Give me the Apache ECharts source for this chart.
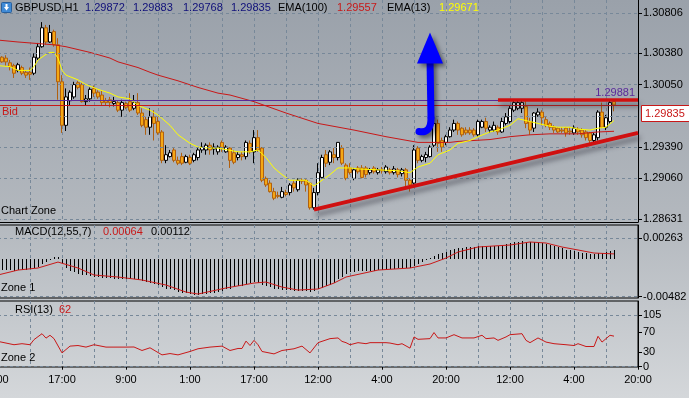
<!DOCTYPE html>
<html lang="en">
<head>
<meta charset="UTF-8">
<title>GBPUSD,H1</title>
<script src="https://cdn.jsdelivr.net/npm/echarts@6/dist/echarts.min.js"></script>
<style>
    html, body { margin: 0; padding: 0; }
    #main { width: 689px; height: 398px; background: linear-gradient(to bottom, #9aa1aa 0%, #b3b8be 55%, #d4d7da 100%); }
</style>
</head>
<body>
<div id="main"></div>
<script type="text/javascript">
    // time axis labels, one every 16 hourly bars
    var timeLabels = ['1:00', '17:00', '9:00', '1:00', '17:00', '12:00', '4:00', '20:00', '12:00', '4:00', '20:00'];

    // OHLC of bars 1..154
    var opens = [
        1.3034,1.3033,1.3028,1.3025,1.3020,1.3023,1.3018,1.3018,1.3017,1.3033,
        1.3045,1.3065,1.3050,1.3061,1.3047,1.3008,1.2962,1.2988,1.2992,1.3007,
        1.3005,1.2987,1.2990,1.3001,1.2997,1.2994,1.2988,1.2989,1.2985,1.2986,
        1.2978,1.2985,1.2987,1.2980,1.2986,1.2975,1.2968,1.2960,1.2971,1.2966,
        1.2955,1.2925,1.2929,1.2936,1.2925,1.2929,1.2923,1.2928,1.2925,1.2928,
        1.2936,1.2936,1.2941,1.2937,1.2934,1.2944,1.2934,1.2938,1.2933,1.2928,
        1.2931,1.2929,1.2943,1.2934,1.2949,1.2938,1.2906,1.2901,1.2892,1.2888,
        1.2886,1.2891,1.2891,1.2901,1.2894,1.2904,1.2904,1.2901,1.2875,1.2891,
        1.2907,1.2931,1.2923,1.2931,1.2928,1.2938,1.2920,1.2917,1.2906,1.2917,
        1.2917,1.2917,1.2912,1.2917,1.2912,1.2915,1.2913,1.2915,1.2912,1.2915,
        1.2911,1.2915,1.2904,1.2901,1.2938,1.2925,1.2928,1.2929,1.2941,1.2964,
        1.2946,1.2944,1.2950,1.2957,1.2964,1.2959,1.2957,1.2957,1.2957,1.2952,
        1.2960,1.2966,1.2957,1.2957,1.2960,1.2955,1.2964,1.2966,1.2978,1.2980,
        1.2980,1.2982,1.2966,1.2959,1.2973,1.2976,1.2968,1.2964,1.2960,1.2959,
        1.2957,1.2959,1.2956,1.2954,1.2958,1.2957,1.2955,1.2954,1.2946,1.2949,
        1.2976,1.2960,1.2966,1.29872
    ];
    var closes = [
        1.3029,1.3029,1.3024,1.3017,1.3026,1.3017,1.3015,1.3016,1.3034,1.3045,
        1.3065,1.3050,1.3060,1.3047,1.3008,1.2962,1.2992,1.2997,1.3005,1.3002,
        1.2987,1.2990,1.3000,1.2996,1.2992,1.2986,1.2986,1.2986,1.2987,1.2978,
        1.2986,1.2981,1.2978,1.2986,1.2975,1.2962,1.2960,1.2971,1.2964,1.2954,
        1.2925,1.2931,1.2933,1.2925,1.2922,1.2922,1.2929,1.2922,1.2931,1.2936,
        1.2939,1.2941,1.2936,1.2939,1.2939,1.2938,1.2939,1.2925,1.2923,1.2931,
        1.2929,1.2944,1.2934,1.2949,1.2936,1.2904,1.2899,1.2892,1.2885,1.2887,
        1.2892,1.2889,1.2899,1.2896,1.2904,1.2903,1.2899,1.2875,1.2891,1.2912,
        1.2928,1.2922,1.2934,1.2928,1.2944,1.2922,1.2906,1.2912,1.2915,1.2913,
        1.2907,1.2910,1.2915,1.2913,1.2915,1.2914,1.2918,1.2912,1.2916,1.2910,
        1.2915,1.2904,1.2899,1.2936,1.2925,1.2929,1.2931,1.2939,1.2964,1.2943,
        1.2939,1.2950,1.2957,1.2964,1.2957,1.2952,1.2954,1.2954,1.2952,1.2966,
        1.2966,1.2959,1.2960,1.2962,1.2955,1.2966,1.2971,1.2980,1.2986,1.2986,
        1.2986,1.2964,1.2957,1.2975,1.2976,1.2970,1.2962,1.2960,1.2957,1.2955,
        1.2956,1.2954,1.2955,1.2959,1.2955,1.2952,1.2949,1.2946,1.2952,1.2976,
        1.2960,1.2970,1.2986,1.29835
    ];
    var lows = [
        1.3028,1.3025,1.3020,1.3012,1.3018,1.3015,1.3012,1.3010,1.3015,1.3031,
        1.3044,1.3047,1.3049,1.3045,1.2989,1.2954,1.2956,1.2983,1.2990,1.3000,
        1.2986,1.2983,1.2987,1.2992,1.2990,1.2983,1.2983,1.2981,1.2982,1.2976,
        1.2971,1.2979,1.2976,1.2978,1.2973,1.2960,1.2952,1.2952,1.2946,1.2952,
        1.2922,1.2922,1.2928,1.2923,1.2920,1.2920,1.2922,1.2920,1.2923,1.2925,
        1.2933,1.2931,1.2931,1.2931,1.2931,1.2934,1.2933,1.2917,1.2921,1.2925,
        1.2925,1.2926,1.2932,1.2922,1.2934,1.2902,1.2897,1.2891,1.2883,1.2885,
        1.2885,1.2887,1.2888,1.2892,1.2892,1.2900,1.2892,1.2873,1.2873,1.2888,
        1.2906,1.2918,1.2920,1.2922,1.2925,1.2920,1.2904,1.2910,1.2904,1.2911,
        1.2906,1.2907,1.2910,1.2911,1.2910,1.2911,1.2911,1.2910,1.2910,1.2907,
        1.2908,1.2896,1.2892,1.2899,1.2922,1.2923,1.2923,1.2928,1.2939,1.2934,
        1.2934,1.2941,1.2949,1.2955,1.2952,1.2950,1.2952,1.2952,1.2950,1.2950,
        1.2959,1.2955,1.2954,1.2955,1.2952,1.2954,1.2962,1.2964,1.2976,1.2978,
        1.2975,1.2959,1.2952,1.2955,1.2971,1.2962,1.2960,1.2957,1.2954,1.2954,
        1.2954,1.2950,1.2952,1.2952,1.2952,1.2949,1.2946,1.2943,1.2943,1.2946,
        1.2959,1.2957,1.2964,1.29768
    ];
    var highs = [
        1.3035,1.3036,1.3031,1.3027,1.3028,1.3025,1.3020,1.3023,1.3038,1.3049,
        1.3071,1.3068,1.3068,1.3063,1.3054,1.3015,1.3001,1.2999,1.3008,1.3009,
        1.3007,1.2994,1.3002,1.3004,1.2999,1.2999,1.2991,1.2992,1.2992,1.2988,
        1.2989,1.2987,1.2996,1.2994,1.2996,1.2980,1.2971,1.2980,1.2978,1.2971,
        1.2957,1.2941,1.2936,1.2938,1.2929,1.2933,1.2931,1.2931,1.2933,1.2938,
        1.2944,1.2943,1.2944,1.2943,1.2941,1.2946,1.2941,1.2939,1.2936,1.2934,
        1.2934,1.2946,1.2946,1.2957,1.2957,1.2939,1.2908,1.2904,1.2896,1.2892,
        1.2897,1.2894,1.2901,1.2904,1.2906,1.2906,1.2906,1.2902,1.2896,1.2922,
        1.2931,1.2936,1.2936,1.2938,1.2944,1.2941,1.2922,1.2922,1.2917,1.2919,
        1.2920,1.2919,1.2917,1.2919,1.2917,1.2918,1.2920,1.2917,1.2919,1.2917,
        1.2917,1.2917,1.2906,1.2941,1.2940,1.2931,1.2934,1.2941,1.2968,1.2968,
        1.2949,1.2952,1.2960,1.2968,1.2966,1.2960,1.2960,1.2960,1.2959,1.2968,
        1.2968,1.2970,1.2962,1.2966,1.2962,1.2970,1.2975,1.2983,1.2989,1.2988,
        1.2989,1.2988,1.2970,1.2976,1.2980,1.2978,1.2971,1.2966,1.2962,1.2960,
        1.2960,1.2960,1.2960,1.2962,1.2960,1.2959,1.2957,1.2955,1.2954,1.2978,
        1.2986,1.2973,1.2988,1.29883
    ];

    // moving averages, [bar, price]
    var ema100 = [[0,1.3052],[5,1.3050],[14,1.3047],[17,1.3045],[23,1.3039],[28,1.3033],[30,1.3029],[35,1.3023],
        [38,1.3018],[40,1.3015],[45,1.3009],[50,1.3002],[55,1.2996],[58,1.2994],[64,1.2987],[72,1.2975],[80,1.2964],
        [89,1.2957],[97,1.2950],[105,1.2944],[113,1.2944],[115,1.2945],[123,1.2947],[128,1.2950],[133,1.2952],
        [138,1.2953],[145,1.2953],[150,1.2955],[154,1.29557]];
    var ema13 = [[0,1.3025],[3,1.3024],[5,1.3020],[8,1.3020],[9,1.3024],[10,1.3031],[12,1.3037],[13,1.3039],
        [14,1.3039],[15,1.3033],[16,1.3020],[17,1.3015],[20,1.3010],[22,1.3005],[25,1.3000],[28,1.2996],[30,1.2992],
        [33,1.2990],[35,1.2983],[38,1.2978],[40,1.2973],[43,1.2962],[45,1.2952],[48,1.2943],[50,1.2939],[53,1.2938],
        [55,1.2938],[60,1.2934],[63,1.2934],[65,1.2936],[67,1.2928],[69,1.2917],[71,1.2910],[73,1.2904],[77,1.2904],
        [79,1.2898],[80,1.2901],[83,1.2910],[85,1.2917],[88,1.2917],[90,1.2916],[95,1.2915],[100,1.2914],[103,1.2912],
        [105,1.2918],[108,1.2922],[110,1.2931],[113,1.2936],[115,1.2943],[118,1.2946],[120,1.2950],[123,1.2955],
        [125,1.2957],[128,1.2962],[130,1.2969],[133,1.2966],[135,1.2964],[138,1.2961],[140,1.2960],[143,1.2960],
        [145,1.2958],[148,1.2957],[150,1.2959],[152,1.2960],[154,1.29671]];

    // MACD(12,55,7): histogram for bars 1..154, signal as [bar, value]
    var macdHist = [
        -0.00142,-0.00142,-0.00145,-0.00148,-0.00145,-0.00142,-0.0014,-0.00135,-0.0012,-0.001,
        -0.0007,-0.0004,-0.0001,0.0002,0.00025,-0.0005,-0.0012,-0.0015,-0.0017,-0.0019,
        -0.002,-0.0021,-0.0022,-0.0023,-0.0023,-0.0024,-0.0024,-0.00244,-0.0025,-0.0025,
        -0.0025,-0.0025,-0.0026,-0.0026,-0.0027,-0.0028,-0.003,-0.0031,-0.0032,-0.0033,
        -0.0036,-0.0038,-0.0039,-0.004,-0.0042,-0.0043,-0.0044,-0.0045,-0.0046,-0.0046,
        -0.0045,-0.0045,-0.0044,-0.0043,-0.0042,-0.0041,-0.0039,-0.0038,-0.0036,-0.0035,
        -0.0034,-0.0032,-0.0031,-0.003,-0.0031,-0.0033,-0.0034,-0.0036,-0.0038,-0.0039,
        -0.004,-0.004,-0.004,-0.0041,-0.0041,-0.0041,-0.0041,-0.0042,-0.0041,-0.0039,
        -0.0037,-0.0034,-0.0033,-0.0031,-0.0026,-0.0023,-0.0019,-0.0017,-0.0017,-0.0016,
        -0.0016,-0.0016,-0.0015,-0.0015,-0.0014,-0.0014,-0.0014,-0.0013,-0.0013,-0.0012,
        -0.0012,-0.0012,-0.0012,-0.0009,-0.0006,-0.0004,-0.0002,0.0001,0.0004,0.0006,
        0.0007,0.0009,0.0011,0.0013,0.0014,0.0014,0.0015,0.0015,0.0015,0.0017,
        0.0017,0.0017,0.0017,0.0017,0.0017,0.0018,0.0019,0.002,0.0021,0.0022,
        0.0023,0.0022,0.0021,0.0021,0.0021,0.002,0.0019,0.0018,0.0016,0.0015,
        0.0014,0.0012,0.0011,0.001,0.0009,0.0008,0.0007,0.0006,0.0006,0.0007,
        0.0008,0.0009,0.001,0.00112
    ];
    var macdSignal = [[0,-0.00205],[5,-0.00142],[10,-0.00116],[15,-0.0004],[20,-0.00116],[24,-0.00205],
        [30,-0.00231],[36,-0.00269],[42,-0.00333],[47,-0.00423],[50,-0.00448],[57,-0.00371],[64,-0.00308],
        [67,-0.00295],[71,-0.00359],[75,-0.00397],[80,-0.00384],[84,-0.00308],[87,-0.00231],[95,-0.00142],
        [103,-0.00116],[108,-0.00065],[112,0.00011],[115,0.00088],[120,0.00152],[124,0.00165],[128,0.00177],
        [133,0.00216],[137,0.00203],[141,0.00152],[145,0.00114],[149,0.00075],[154,0.00064]];

    // RSI(13), [bar, value]
    var rsi = [[0,51.4],[4,44.6],[6,46.7],[8,44.6],[9,55],[11,67],[12,58],[13,63.8],[14,57],[16,28],[18,41.8],
        [20,43],[22,39.8],[24,44.6],[27,39.8],[32,39.8],[34,40],[36,32.9],[38,38.4],[41,24],[43,26.7],[45,24],
        [48,30.9],[50,36.4],[53,39.8],[56,41.8],[58,32.9],[60,37],[61,37],[62,52],[63,43],[64,53.5],[65,44.6],
        [66,30.9],[69,26],[71,32.9],[74,36.4],[76,41.8],[78,28],[80,48.8],[83,57],[85,58.4],[86,51.4],[87,48.8],
        [88,44.6],[90,48.8],[92,46.7],[93,48.8],[97,48.8],[98,48],[100,44.6],[101,46.7],[103,37.7],[104,60.4],
        [105,55.6],[108,57],[109,69.3],[110,58.4],[112,58.4],[114,65],[116,58.4],[119,58.4],[121,63.8],[122,57],
        [124,58.4],[125,53.5],[127,60.4],[128,65],[131,67],[132,53.5],[133,48.8],[135,58.4],[137,50],[139,46.7],
        [142,44.6],[144,43],[145,46.7],[147,41],[149,41],[150,61.7],[151,50],[153,63.8],[154,62]];

    // axis ticks and chart objects
    var priceGrid = [1.30806, 1.30380, 1.30050, 1.29720, 1.29390, 1.29060, 1.28631];
    var priceLabels = [1.30806, 1.30380, 1.30050, 1.29390, 1.29060, 1.28631];
    var macdTicks = [0.00263, -0.00482];
    var rsiTicks = [105, 70, 30, 0];
    var rsiGrid = [105, 0];
    var bid = 1.29835;
    var hLine = 1.29881;
    var resistance = [[125, 1.29885], [160, 1.29885]];
    var support = [[79, 1.2873], [160, 1.2954]];

    var FONT = '"Liberation Sans", Arial, sans-serif';
    var GRIDC = '#778899';
    var RED = '#c81818';

    var cats = [];
    for (var k = 0; k <= 160; k++) cats.push(String(k));
    var candles = ['-'].concat(opens.map(function (o, j) { return [o, closes[j], lows[j], highs[j]]; }));
    var hist = macdHist.map(function (v, j) { return [j + 1, v]; });

    function everyLabel(i) { return i % 16 === 0; }

    function xAx(g, labels) {
        return {
            type: 'category', gridIndex: g, data: cats, boundaryGap: false,
            axisLine: {show: g === 0, lineStyle: {color: '#000'}},
            axisTick: {show: labels, interval: everyLabel, length: 3, lineStyle: {color: '#000'}},
            axisLabel: {
                show: labels, interval: everyLabel, margin: 7, hideOverlap: false,
                color: '#000', fontSize: 11, fontFamily: FONT,
                formatter: function (v, i) { return timeLabels[i / 16]; }
            },
            splitLine: {show: true, interval: 7, lineStyle: {color: GRIDC, type: [3, 3], width: 1}}
        };
    }

    function yAx(g, min, max, ticks, labels, fmt) {
        return {
            type: 'value', gridIndex: g, position: 'right', min: min, max: max,
            axisLine: {show: true, lineStyle: {color: '#000'}},
            axisTick: {show: true, length: 4, customValues: ticks, lineStyle: {color: '#000'}},
            axisLabel: {customValues: labels, formatter: fmt, color: '#000', fontSize: 11, fontFamily: FONT, margin: 5},
            splitLine: {show: false}
        };
    }

    function gridLines(g, vals) {
        return {
            type: 'line', xAxisIndex: g, yAxisIndex: g, data: [], z: 1, silent: true,
            markLine: {
                silent: true, precision: 6, symbol: ['none', 'none'], label: {show: false},
                lineStyle: {color: GRIDC, type: [3, 3], width: 1},
                data: vals.map(function (v) { return {yAxis: v}; })
            }
        };
    }

    var trendStyle = {color: '#d01010', type: 'solid', shadowColor: 'rgba(50,50,60,0.55)', shadowBlur: 5, shadowOffsetX: 2, shadowOffsetY: 5};

    var option = {
        animation: false,
        grid: [
            {left: -2, right: 51, top: 0, height: 222, show: false, outerBoundsMode: 'none', containLabel: false},
            {left: -2, right: 51, top: 225, height: 73, show: true, borderColor: '#000', borderWidth: 1, outerBoundsMode: 'none', containLabel: false},
            {left: -2, right: 51, top: 301, height: 66, show: true, borderColor: '#000', borderWidth: 1, outerBoundsMode: 'none', containLabel: false}
        ],
        xAxis: [xAx(0, false), xAx(1, false), xAx(2, true)],
        yAxis: [
            yAx(0, 1.285993, 1.309433, priceLabels, priceLabels, function (v) { return v.toFixed(5); }),
            yAx(1, -0.004986, 0.004327, macdTicks, macdTicks, function (v) { return v.toFixed(5); }),
            yAx(2, -0.61, 133.4, rsiTicks, rsiTicks, function (v) { return String(v); })
        ],
        series: [
            gridLines(0, priceGrid),
            gridLines(1, macdTicks),
            gridLines(2, rsiGrid),
            {
                name: 'GBPUSD', type: 'candlestick', xAxisIndex: 0, yAxisIndex: 0, z: 3,
                data: candles, barWidth: 3,
                itemStyle: {color: '#ffffff', borderColor: '#000000', color0: '#f5a814', borderColor0: '#b0600f', borderWidth: 1}
            },
            {
                name: 'EMA(100)', type: 'line', xAxisIndex: 0, yAxisIndex: 0, z: 4, data: ema100,
                showSymbol: false, symbol: 'none', lineStyle: {color: RED, width: 1}
            },
            {
                name: 'EMA(13)', type: 'line', xAxisIndex: 0, yAxisIndex: 0, z: 4, data: ema13,
                showSymbol: false, symbol: 'none', lineStyle: {color: '#ffff00', width: 1}
            },
            {
                type: 'line', xAxisIndex: 0, yAxisIndex: 0, data: [], z: 5, silent: true,
                markLine: {
                    silent: true, precision: 6, symbol: ['none', 'none'],
                    data: [
                        {
                            yAxis: bid, lineStyle: {color: RED, width: 1, type: 'solid'},
                            label: {show: true, position: 'insideStartBottom', formatter: 'Bid', color: RED, fontSize: 11, fontFamily: FONT, distance: [4, 2]}
                        },
                        {
                            yAxis: hLine, lineStyle: {color: '#5a2a9a', width: 1, type: 'solid'},
                            label: {show: true, position: 'insideEndTop', formatter: hLine.toFixed(5), color: '#5a2a9a', fontSize: 11, fontFamily: FONT, distance: [3, 2]}
                        },
                        [
                            {coord: resistance[0], lineStyle: Object.assign({width: 3.5}, trendStyle), label: {show: false}},
                            {coord: resistance[1]}
                        ],
                        [
                            {coord: support[0], lineStyle: Object.assign({width: 4}, trendStyle), label: {show: false}},
                            {coord: support[1]}
                        ]
                    ]
                }
            },
            {
                // histogram drawn as crisp 1px sticks from the zero level
                name: 'MACD', type: 'custom', xAxisIndex: 1, yAxisIndex: 1, data: hist, z: 3,
                encode: {x: 0, y: 1},
                renderItem: function (params, api) {
                    var top = api.coord([api.value(0), api.value(1)]);
                    var base = api.coord([api.value(0), 0]);
                    var x = Math.round(top[0]) + 0.5;
                    return {
                        type: 'line',
                        shape: {x1: x, y1: Math.round(base[1]), x2: x, y2: Math.round(top[1])},
                        style: {stroke: '#000', lineWidth: 1}
                    };
                }
            },
            {
                name: 'Signal', type: 'line', xAxisIndex: 1, yAxisIndex: 1, data: macdSignal, z: 4,
                showSymbol: false, symbol: 'none', lineStyle: {color: RED, width: 1}
            },
            {
                name: 'RSI(13)', type: 'line', xAxisIndex: 2, yAxisIndex: 2, data: rsi, z: 4,
                showSymbol: false, symbol: 'none', lineStyle: {color: RED, width: 1}
            }
        ]
    };

    var chart = echarts.init(document.getElementById('main'));
    chart.setOption(option);

    // captions
    var texts = [
        ['GBPUSD,H1', 15, 7.5, '#000'],
        ['1.29872', 85, 7.5, '#10107a'],
        ['1.29883', 133, 7.5, '#10107a'],
        ['1.29768', 183, 7.5, '#10107a'],
        ['1.29835', 231, 7.5, '#10107a'],
        ['EMA(100)', 278, 7.5, '#000'],
        ['1.29557', 337, 7.5, RED],
        ['EMA(13)', 387, 7.5, '#000'],
        ['1.29671', 439, 7.5, '#ffff00'],
        ['Chart Zone', 1, 211, '#000'],
        ['MACD(12,55,7)', 15, 232, '#000'],
        ['0.00064', 103, 232, RED],
        ['0.00112', 151, 232, '#000'],
        ['Zone 1', 1, 288, '#000'],
        ['RSI(13)', 15, 310, '#000'],
        ['62', 59, 310, RED],
        ['Zone 2', 1, 358, '#000']
    ];
    var graphics = texts.map(function (t) {
        return {
            type: 'text', z: 100, silent: true,
            style: {text: t[0], x: t[1], y: t[2], fill: t[3], font: '11px ' + FONT, textVerticalAlign: 'middle', verticalAlign: 'middle'}
        };
    });

    // symbol icon in the corner
    graphics.push({type: 'rect', z: 100, shape: {x: 1.5, y: 2.5, width: 10, height: 10, r: 1}, style: {fill: '#3f8ad6', stroke: '#285f9c', lineWidth: 1}});
    graphics.push({type: 'polygon', z: 101, shape: {points: [[4, 7], [9, 7], [6.5, 10.5]]}, style: {fill: '#fff'}});
    graphics.push({type: 'rect', z: 101, shape: {x: 5.5, y: 4, width: 2, height: 3.5}, style: {fill: '#fff'}});

    // bid price box on the price scale
    var yb = chart.convertToPixel({yAxisIndex: 0}, bid);
    graphics.push({type: 'rect', z: 100, shape: {x: 641.5, y: Math.round(yb) + 0.5, width: 50, height: 16}, style: {fill: '#fff', stroke: RED, lineWidth: 1}});
    graphics.push({type: 'text', z: 101, style: {text: bid.toFixed(5), x: 645, y: Math.round(yb) + 8.5, fill: RED, font: '11px ' + FONT, textVerticalAlign: 'middle', verticalAlign: 'middle'}});

    // blue arrow drawn on the chart
    var tip = chart.convertToPixel({xAxisIndex: 0, yAxisIndex: 0}, [108, 1.3060]);
    var tx = tip[0], ty = tip[1];
    var shadow = {shadowBlur: 4, shadowOffsetX: 3, shadowOffsetY: 3, shadowColor: 'rgba(0,0,0,0.45)'};
    graphics.push({type: 'line', z: 60, shape: {x1: tx, y1: ty + 26, x2: tx + 1, y2: ty + 86},
        style: Object.assign({stroke: '#0000ff', lineWidth: 7}, shadow)});
    graphics.push({type: 'bezierCurve', z: 60, shape: {x1: tx + 1, y1: ty + 86, cpx1: tx + 1, cpy1: ty + 101, x2: tx - 11, y2: ty + 99},
        style: Object.assign({stroke: '#0000ff', fill: null, lineWidth: 7, lineCap: 'round'}, shadow)});
    graphics.push({type: 'polygon', z: 61, shape: {points: [[tx, ty], [tx + 13, ty + 31], [tx - 13, ty + 31]]},
        style: Object.assign({fill: '#0000ff'}, shadow)});

    chart.setOption({graphic: graphics});
</script>
</body>
</html>
